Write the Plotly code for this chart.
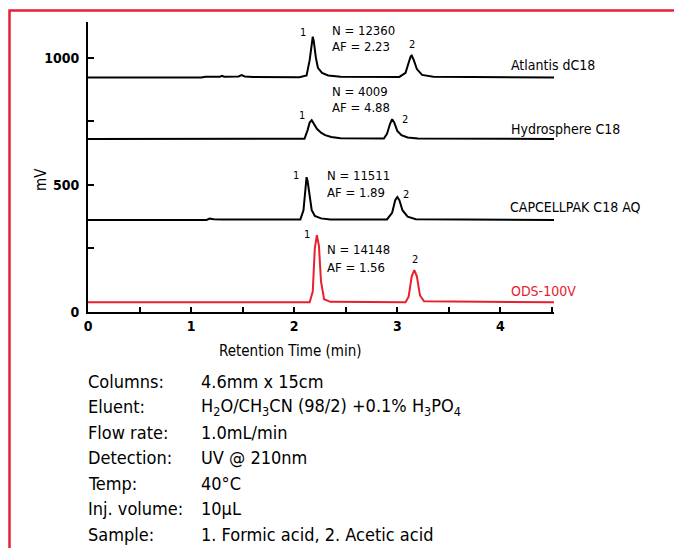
import plotly.graph_objects as go

# ---- data (time in min, signal in mV, offsets included) ----
atl_t = [0, 1.10, 1.14, 1.28, 1.30, 1.32, 1.46, 1.49, 1.52, 1.60, 2.05, 2.12, 2.15, 2.17, 2.18,
         2.19, 2.21, 2.23, 2.27, 2.33, 2.45, 3.02, 3.08, 3.11, 3.13, 3.14, 3.16, 3.19, 3.24, 3.35, 4.52]
atl_v = [922, 922, 925, 925, 928, 925, 926, 931, 926, 924, 923, 930, 990, 1060, 1082,
         1065, 1000, 960, 940, 930, 925, 924, 940, 980, 1005, 1008, 990, 955, 932, 925, 922]

hyd_t = [0, 2.10, 2.13, 2.15, 2.17, 2.19, 2.22, 2.26, 2.30, 2.36, 2.45, 2.87, 2.90, 2.93,
         2.95, 2.97, 3.00, 3.04, 3.10, 3.20, 4.52]
hyd_v = [680, 681, 715, 745, 754, 742, 720, 705, 695, 688, 683, 682, 700, 740,
         758, 745, 712, 695, 686, 682, 680]

cap_t = [0, 1.15, 1.18, 1.22, 1.30, 2.06, 2.09, 2.11, 2.12, 2.13, 2.15, 2.17, 2.20, 2.26,
         2.35, 2.90, 2.95, 2.98, 3.00, 3.02, 3.05, 3.10, 3.18, 4.52]
cap_v = [362, 362, 367, 365, 364, 364, 400, 500, 530, 515, 450, 400, 378, 368,
         364, 364, 390, 440, 452, 440, 400, 375, 365, 362]

ods_t = [0, 2.15, 2.18, 2.20, 2.22, 2.24, 2.26, 2.29, 2.35, 3.08, 3.11, 3.14, 3.165,
         3.19, 3.22, 3.26, 4.52]
ods_v = [38, 38, 80, 250, 302, 260, 120, 50, 40, 38, 60, 140, 165,
         140, 65, 42, 38]

series_names = ["Atlantis dC18", "Hydrosphere C18", "CAPCELLPAK C18 AQ", "ODS-100V"]
n_values = ["N = 12360", "N = 4009", "N = 11511", "N = 14148"]
af_values = ["AF = 2.23", "AF = 4.88", "AF = 1.89", "AF = 1.56"]

cond_labels = ["Columns:", "Eluent:", "Flow rate:", "Detection:", "Temp:", "Inj. volume:", "Sample:"]
cond_values = ["4.6mm x 15cm",
               "H<sub>2</sub>O/CH<sub>3</sub>CN (98/2) +0.1% H<sub>3</sub>PO<sub>4</sub>",
               "1.0mL/min", "UV @ 210nm", "40°C", "10µL",
               "1. Formic acid, 2. Acetic acid"]

x_ticks = [0, 1, 2, 3, 4]
y_ticks = [0, 500, 1000]

# ---- styling ----
FONT = "DejaVu Sans Condensed, Liberation Sans Narrow, Roboto, sans-serif"
RED = "#e8202e"
BORDER = "#e8203a"

# page body has an 8px margin: figure is placed at (8, 8) in the window
OFF = 8
W, H = 682 - OFF, 548 - OFF
X0, X1, Y0, Y1 = 88, 554, 22, 312          # plot area in window pixels
L, T = X0 - OFF, Y0 - OFF
R, B = W - (X1 - OFF), H - (Y1 - OFF)
pw, ph = X1 - X0, Y1 - Y0

def px(xp):
    return (xp - X0) / pw

def py(yp):
    return (Y1 - yp) / ph

fig = go.Figure()
traces = [(atl_t, atl_v, "black"), (hyd_t, hyd_v, "black"),
          (cap_t, cap_v, "black"), (ods_t, ods_v, RED)]
for (t, v, c), name in zip(traces, series_names):
    fig.add_trace(go.Scatter(x=t, y=v, mode="lines", name=name,
                             line=dict(color=c, width=2), showlegend=False))

ann = []
lab_pos = [(4.08, 971), (4.08, 719), (4.07, 413), (4.08, 83)]
for (x, y), name in zip(lab_pos, series_names):
    ann.append(dict(x=x, y=y, text=name, xanchor="left", yanchor="middle", showarrow=False,
                    font=dict(family=FONT, size=14,
                              color=RED if name == "ODS-100V" else "black")))

nf_pos = [(2.35, 1108, 1042), (2.35, 865, 802), (2.30, 538, 468), (2.30, 244, 173)]
for (x, yn, ya), n, a in zip(nf_pos, n_values, af_values):
    ann.append(dict(x=x, y=yn, text=n, xanchor="left", yanchor="middle", showarrow=False,
                    font=dict(family=FONT, size=13, color="black")))
    ann.append(dict(x=x, y=ya, text=a, xanchor="left", yanchor="middle", showarrow=False,
                    font=dict(family=FONT, size=13, color="black")))

pk_pos = [(2.087, 1100, 3.146, 1050), (2.08, 774, 3.07, 755),
          (2.02, 538, 3.08, 460), (2.125, 303, 3.175, 208)]
for x1, y1, x2, y2 in pk_pos:
    ann.append(dict(x=x1, y=y1, text="1", showarrow=False, xanchor="center", yanchor="middle",
                    font=dict(family=FONT, size=11, color="black")))
    ann.append(dict(x=x2, y=y2, text="2", showarrow=False, xanchor="center", yanchor="middle",
                    font=dict(family=FONT, size=11, color="black")))

ann.append(dict(xref="paper", yref="paper", x=px(290), y=py(351), text="Retention Time (min)",
                showarrow=False, xanchor="center", yanchor="middle",
                font=dict(family=FONT, size=15, color="black")))
ann.append(dict(xref="paper", yref="paper", x=px(41), y=py(180), text="mV", textangle=-90,
                showarrow=False, xanchor="center", yanchor="middle",
                font=dict(family=FONT, size=15, color="black")))

row_y = [381, 406.5, 432, 457.5, 483, 508.5, 534]
for yy, lab, val in zip(row_y, cond_labels, cond_values):
    ann.append(dict(xref="paper", yref="paper", x=px(86), y=py(yy), text=lab, showarrow=False,
                    xanchor="left", yanchor="middle",
                    font=dict(family=FONT, size=18, color="black")))
    ann.append(dict(xref="paper", yref="paper", x=px(199), y=py(yy), text=val, showarrow=False,
                    xanchor="left", yanchor="middle",
                    font=dict(family=FONT, size=18, color="black")))

shapes = [dict(type="rect", xref="paper", yref="paper",
               x0=px(9.5), x1=px(700), y0=py(570), y1=py(10.5),
               line=dict(color=BORDER, width=2.5), layer="above")]

fig.update_layout(
    width=W, height=H,
    margin=dict(l=L, r=R, t=T, b=B, pad=0),
    paper_bgcolor="white", plot_bgcolor="white",
    annotations=ann, shapes=shapes,
    xaxis=dict(range=[0, 4.52], showgrid=False, zeroline=False, showline=True,
               linecolor="black", linewidth=2, ticks="inside", ticklen=5, tickwidth=2,
               tickcolor="black", tickvals=x_ticks, ticktext=[str(v) for v in x_ticks],
               tickfont=dict(family=FONT, size=14, color="black", weight="bold"),
               minor=dict(dtick=0.5, tick0=0, ticks="inside", ticklen=5, tickwidth=2,
                          tickcolor="black"),
               fixedrange=True),
    yaxis=dict(range=[0, 1140], showgrid=False, zeroline=False, showline=True,
               linecolor="black", linewidth=2, ticks="inside", ticklen=6, tickwidth=2,
               tickcolor="black", tickvals=y_ticks, ticktext=[str(v) for v in y_ticks],
               tickfont=dict(family=FONT, size=14, color="black", weight="bold"),
               ticklabelstandoff=4,
               minor=dict(dtick=250, tick0=0, ticks="inside", ticklen=6, tickwidth=2,
                          tickcolor="black"),
               fixedrange=True),
)

fig.write_html("out.html")
